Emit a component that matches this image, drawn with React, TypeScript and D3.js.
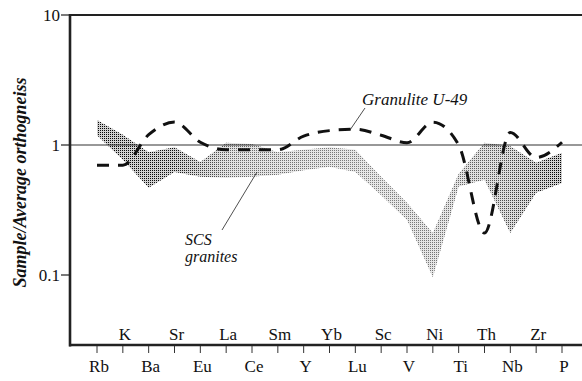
import React from "react";
import * as d3 from "d3";

const elements = ["Rb", "K", "Ba", "Sr", "Eu", "La", "Ce", "Sm", "Y", "Yb", "Lu", "Sc", "V", "Ni", "Ti", "Th", "Nb", "Zr", "P"];
const granuliteU49 = [0.7, 0.7, 1.2, 1.5, 1.05, 0.92, 0.92, 0.92, 1.17, 1.29, 1.32, 1.19, 1.04, 1.5, 1.0, 0.21, 1.25, 0.8, 1.05];
const scsUpper = [1.56, 1.2, 0.88, 0.96, 0.74, 1.04, 1.02, 0.88, 0.92, 0.96, 0.92, 0.57, 0.36, 0.21, 0.6, 1.04, 0.98, 0.73, 0.87];
const scsLower = [1.19, 0.77, 0.47, 0.62, 0.57, 0.56, 0.57, 0.59, 0.64, 0.68, 0.62, 0.41, 0.265, 0.096, 0.48, 0.54, 0.21, 0.43, 0.51];
const yTicks = [10, 1, 0.1];
const yTickLabels = ["10", "1", "0.1"];
const yTitle = "Sample/Average orthogneiss";
const granuliteLabel = "Granulite U-49";
const scsLabel = ["SCS", "granites"];

const W = 582;
const H = 381;
const left = 70;
const right = 582;
const top = 15;
const bottom = 345;
const serif = "'Liberation Serif', 'DejaVu Serif', 'Times New Roman', serif";
const txt = { fontFamily: serif };

export default function App() {
  const x = d3.scalePoint<string>().domain(elements).range([97, 562]);
  const y = d3.scaleLog().domain([0.1, 10]).range([275, 15]);

  const band = d3
    .area<number>()
    .x((_, i) => x(elements[i])!)
    .y0((_, i) => y(scsLower[i]))
    .y1((_, i) => y(scsUpper[i]))
    .curve(d3.curveLinear);

  const line = d3
    .line<number>()
    .x((_, i) => x(elements[i])!)
    .y((d) => y(d))
    .curve(d3.curveMonotoneX);

  const idx = elements.map((_, i) => i);
  const bandD = band(idx) || "";

  return (
    <svg
      width={W}
      height={H}
      style={{ position: "absolute", left: 0, top: 0, background: "#fff" }}
    >
      <defs>
        <pattern id="stip" patternUnits="userSpaceOnUse" x={0} y={0} width={2} height={2}>
          <rect x={0} y={0} width={1} height={1} fill="#000" />
        </pattern>
        <linearGradient id="dens" gradientUnits="userSpaceOnUse" x1={left} x2={right} y1={0} y2={0}>
          <stop offset="0" stopColor="#fff" stopOpacity={1} />
          <stop offset="0.2" stopColor="#fff" stopOpacity={0.95} />
          <stop offset="0.32" stopColor="#fff" stopOpacity={0.6} />
          <stop offset="0.6" stopColor="#fff" stopOpacity={0.5} />
          <stop offset="0.72" stopColor="#fff" stopOpacity={0.55} />
          <stop offset="0.85" stopColor="#fff" stopOpacity={0.7} />
          <stop offset="0.95" stopColor="#fff" stopOpacity={1} />
          <stop offset="1" stopColor="#fff" stopOpacity={1} />
        </linearGradient>
        <mask id="densMask" maskUnits="userSpaceOnUse" x={0} y={0} width={W} height={H}>
          <rect x={0} y={0} width={W} height={H} fill="url(#dens)" />
        </mask>
      </defs>

      {/* SCS granites band */}
      <g mask="url(#densMask)">
        <path d={bandD} fill="#cfcfcf" stroke="none" />
        <path d={bandD} fill="url(#stip)" stroke="none" />
      </g>

      {/* reference line at 1 */}
      <line x1={left} x2={right} y1={y(1)} y2={y(1)} stroke="#333" strokeWidth={1.2} />

      {/* Granulite U-49 dashed line */}
      <path
        d={line(granuliteU49) || ""}
        fill="none"
        stroke="#111"
        strokeWidth={3}
        strokeDasharray="12,9"
      />

      {/* axes frame */}
      <line x1={left} x2={right} y1={top} y2={top} stroke="#222" strokeWidth={2.2} />
      <line x1={left} x2={left} y1={top - 1} y2={bottom + 1.5} stroke="#222" strokeWidth={2.6} />
      <line x1={left - 1} x2={right} y1={bottom} y2={bottom} stroke="#222" strokeWidth={2.6} />

      {/* y ticks */}
      {yTicks.map((t, i) => (
        <g key={t}>
          <line x1={left - 9} x2={left} y1={y(t)} y2={y(t)} stroke="#222" strokeWidth={1.2} />
          <text x={left - 10} y={y(t) + 6} textAnchor="end" fontSize={17} fill="#111" style={txt}>
            {yTickLabels[i]}
          </text>
        </g>
      ))}

      {/* x ticks and labels */}
      {elements.map((e, i) => {
        const px = x(e)!;
        const upper = i % 2 === 1;
        return (
          <g key={e}>
            <line x1={px} x2={px} y1={bottom + 1} y2={bottom + 8} stroke="#333" strokeWidth={1} />
            <text
              x={px + 2}
              y={upper ? 340 : 372}
              textAnchor="middle"
              fontSize={17}
              fill="#111"
              style={txt}
            >
              {e}
            </text>
          </g>
        );
      })}

      {/* y title */}
      <text
        transform={`translate(26,${(top + 350) / 2}) rotate(-90)`}
        textAnchor="middle"
        fontSize={18}
        fontWeight="bold"
        fontStyle="italic"
        fill="#111"
        style={txt}
      >
        {yTitle}
      </text>

      {/* annotations */}
      <text x={362} y={105} fontSize={17} fontStyle="italic" fill="#111" style={txt}>
        {granuliteLabel}
      </text>
      <line x1={365} y1={108} x2={350} y2={130} stroke="#222" strokeWidth={0.8} />

      <text x={185} y={245} fontSize={16} fontStyle="italic" fill="#111" style={txt}>
        {scsLabel[0]}
      </text>
      <text x={185} y={262} fontSize={16} fontStyle="italic" fill="#111" style={txt}>
        {scsLabel[1]}
      </text>
      <line x1={222} y1={230} x2={257} y2={172} stroke="#222" strokeWidth={0.8} />
    </svg>
  );
}
